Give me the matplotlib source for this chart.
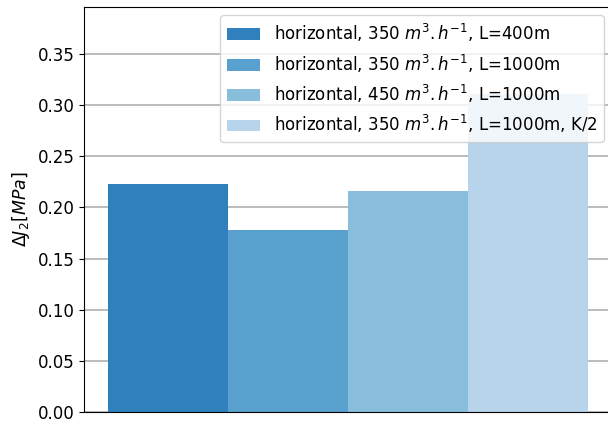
import matplotlib.pyplot as plt
import numpy as np

labels = ['horizontal, 350 $m^3.h^{-1}$, L=400m',
          'horizontal, 350 $m^3.h^{-1}$, L=1000m',
          'horizontal, 450 $m^3.h^{-1}$, L=1000m',
          'horizontal, 350 $m^3.h^{-1}$, L=1000m, K/2']
values = [0.223, 0.178, 0.216, 0.311]
colors = ['#3080bd', '#58a1cf', '#88bedc', '#b7d4ea']

fig = plt.figure(figsize=(6.08, 4.23), dpi=100)
ax = fig.add_axes([84 / 608, 11 / 423, 528 / 608, 405 / 423])

x = np.arange(len(values))
for xi, v, c, lab in zip(x, values, colors, labels):
    ax.bar(xi, v, width=1.0, color=c, label=lab, zorder=2)

ax.set_xlim(-0.7, 3.7)
ax.set_ylim(0, 0.396)
ax.set_xticks([])
ax.set_yticks(np.arange(0, 0.36, 0.05))
ax.tick_params(axis='y', labelsize=12)
ax.yaxis.grid(True, color='#b0b0b0', linewidth=1.2, zorder=0)
ax.set_axisbelow(True)
ax.set_ylabel(r'$\Delta J_2 [MPa]$', fontsize=12.5)

ax.legend(loc='upper right', fontsize=12, handlelength=2.0)

plt.savefig('out.png', dpi=100)
